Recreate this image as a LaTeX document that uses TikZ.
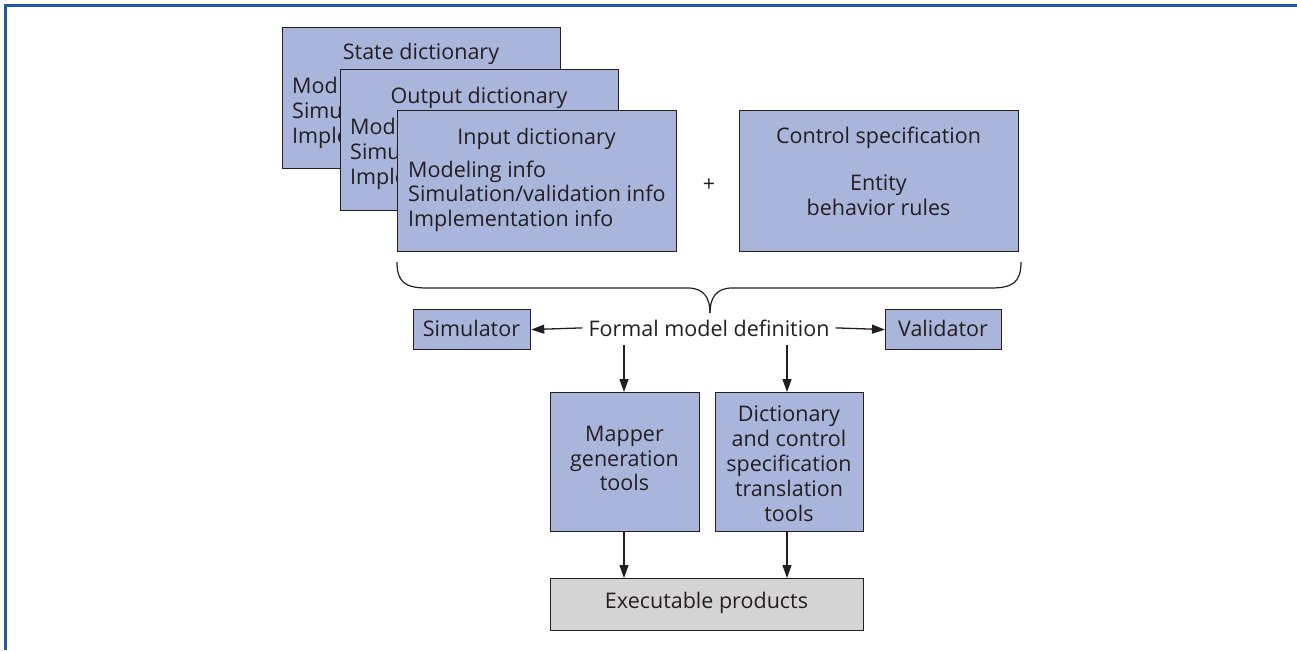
\documentclass[tikz,border=0pt]{standalone}
\usepackage{fontspec}
\setmainfont{Open Sans}
\usetikzlibrary{arrows.meta}
\definecolor{boxfill}{HTML}{A9B5DB}
\definecolor{exefill}{HTML}{D4D4D4}
\definecolor{ink}{HTML}{231F20}
\definecolor{frame}{HTML}{1F5AA6}
\tikzset{
  panel/.style={draw=ink, line width=1.2pt, fill=boxfill, inner sep=0pt, anchor=north west},
  greypanel/.style={panel, fill=exefill},
  lbl/.style={text=ink, inner sep=0pt, font=\fontsize{21.5}{25}\selectfont},
  ctr/.style={lbl, anchor=base},
  lft/.style={lbl, anchor=base west},
  arr/.style={draw=ink, line width=1.3pt, -{Triangle[length=13pt,width=9pt]}},
  bracepath/.style={draw=ink, line width=1.2pt}
}
\begin{document}
\begin{tikzpicture}[x=1pt, y=-1pt]
\useasboundingbox (0,0) rectangle (1297,650);
% outer frame: top and left edges
\draw[frame, line width=3pt] (5.5,650) -- (5.5,5.5) -- (1297,5.5);

% state dictionary (back)
\node[panel, minimum width=278pt, minimum height=141pt] (state) at (282,27) {};
\node[ctr] (stateT) at (421,60) {State dictionary};
\node[lft] (stateA) at (292,94) {Mod};
\node[lft] (stateB) at (292,118.5) {Simu};
\node[lft] (stateC) at (292,143) {Imple};

% output dictionary (middle)
\node[panel, minimum width=278pt, minimum height=141pt] (output) at (340,69) {};
\node[ctr] (outT) at (479,103) {Output dictionary};
\node[lft] (outA) at (350,135) {Mod};
\node[lft] (outB) at (350,159.5) {Simu};
\node[lft] (outC) at (350,184) {Imple};

% input dictionary (front)
\node[panel, minimum width=279pt, minimum height=141pt] (input) at (397,110) {};
\node[ctr] (inT) at (536.5,144) {Input dictionary};
\node[lft] (inA) at (408,177) {Modeling info};
\node[lft] (inB) at (408,201.5) {Simulation/validation info};
\node[lft] (inC) at (408,226) {Implementation info};

% plus sign
\node[lbl] (plus) at (709,185) {+};

% control specification
\node[panel, minimum width=279pt, minimum height=141pt] (control) at (739,110) {};
\node[ctr] (ctlT) at (878.5,143.5) {Control specification};
\node[ctr] (ctlA) at (878.5,190) {Entity};
\node[ctr] (ctlB) at (878.5,215) {behavior rules};

% curly brace gathering the specifications
\coordinate (bl) at (397,262);
\coordinate (br) at (1021,262);
\coordinate (tip) at (710,313);
\draw[bracepath] (bl) .. controls (397,282) and (405,288) .. (427,288) -- (688,288)
  .. controls (704,288) and (710,298) .. (tip);
\draw[bracepath] (br) .. controls (1021,282) and (1013,288) .. (991,288) -- (732,288)
  .. controls (716,288) and (710,298) .. (tip);

% formal model definition and its neighbours
\node[lbl, anchor=base, inner xsep=6pt] (fmd) at (709,336) {Formal model definition};
\node[panel, minimum width=117pt, minimum height=40pt] (sim) at (413,309) {};
\node[ctr] (simT) at (471.5,336) {Simulator};
\node[panel, minimum width=116pt, minimum height=40pt] (val) at (885,309) {};
\node[ctr] (valT) at (943,336) {Validator};
\draw[arr] (fmd.west) -- (sim.east);
\draw[arr] (fmd.east) -- (val.west);

% tool boxes
\node[panel, minimum width=149pt, minimum height=139pt] (map) at (550,392) {};
\node[ctr] (mapA) at (624.5,441.5) {Mapper};
\node[ctr] (mapB) at (624.5,466) {generation};
\node[ctr] (mapC) at (624.5,490.5) {tools};
\node[panel, minimum width=148pt, minimum height=139pt] (dict) at (715,392) {};
\node[ctr] (dictA) at (789,421.5) {Dictionary};
\node[ctr] (dictB) at (789,446.5) {and control};
\node[ctr] (dictC) at (789,471.5) {specification};
\node[ctr] (dictD) at (789,496.5) {translation};
\node[ctr] (dictE) at (789,521.5) {tools};

\coordinate (fs1) at (624,345);
\coordinate (fs2) at (787,345);
\draw[arr] (fs1) -- (fs1 |- map.north);
\draw[arr] (fs2) -- (fs2 |- dict.north);

% executable products
\node[greypanel, minimum width=313pt, minimum height=52pt] (exe) at (550,578) {};
\node[ctr] (exeT) at (706.5,608) {Executable products};
\draw[arr] (map.south -| fs1) -- (exe.north -| fs1);
\draw[arr] (dict.south -| fs2) -- (exe.north -| fs2);
\end{tikzpicture}
\end{document}
